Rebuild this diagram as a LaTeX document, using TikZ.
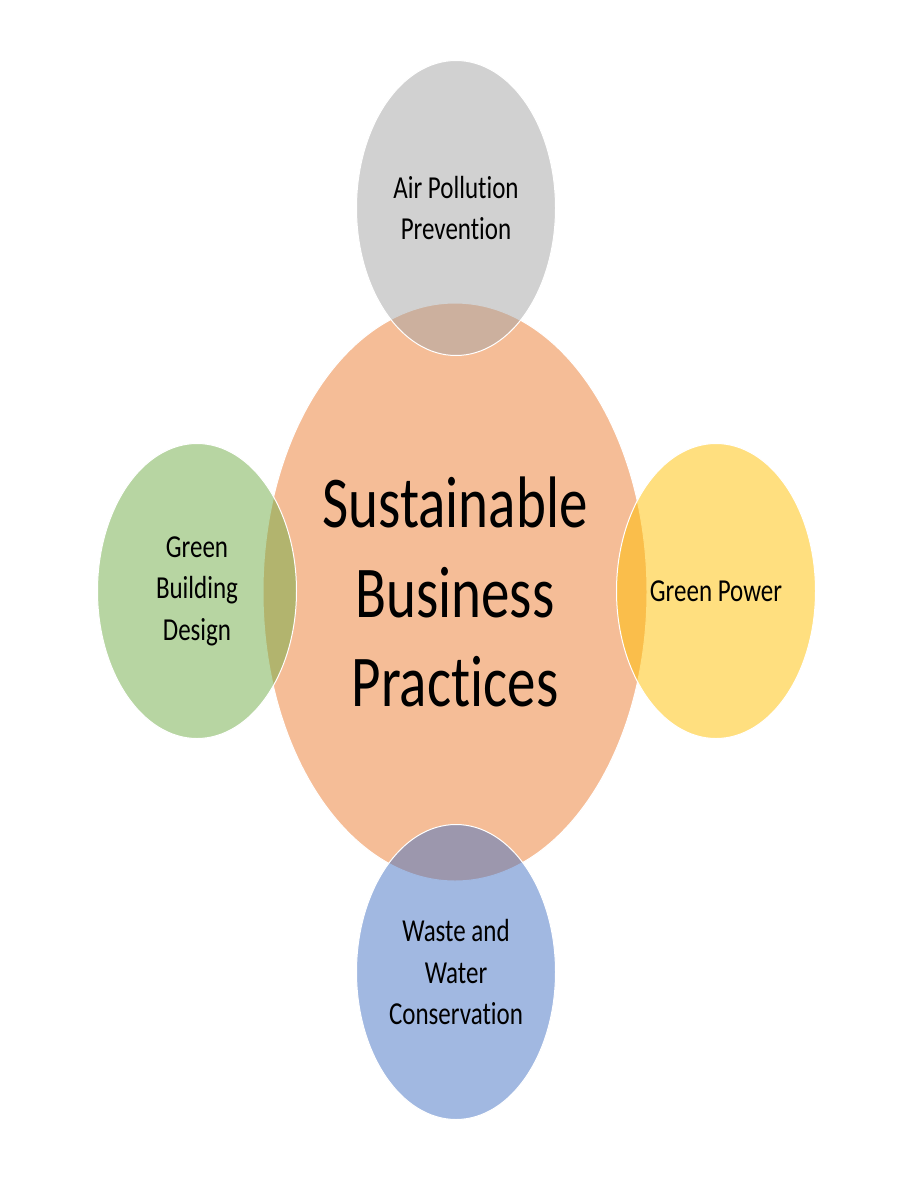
\documentclass[tikz,border=0pt]{standalone}
\usepackage{fontspec}
\setmainfont{Carlito}[Ligatures=NoCommon]
\usetikzlibrary{shapes.geometric}
\definecolor{hubOrange}{HTML}{ED7D31}
\definecolor{airGray}{HTML}{A5A5A5}
\definecolor{buildGreen}{HTML}{70AD47}
\definecolor{powerYellow}{HTML}{FFC000}
\definecolor{wasteBlue}{HTML}{4472C4}
\tikzset{
    bubble/.style={
        ellipse,
        draw=white,
        line width=1pt,
        fill opacity=0.5,
        inner sep=0pt
    },
    hub_bubble/.style={
        bubble,
        fill=hubOrange,
        minimum width=384pt,
        minimum height=578pt
    },
    spoke_bubble/.style={
        bubble,
        minimum width=199pt,
        minimum height=295pt
    },
    hub_text/.style={
        align=center,
        font=\fontsize{57}{70}\selectfont,
        yscale=1.28,
        transform shape
    },
    spoke_text/.style={
        align=center,
        font=\fontsize{25}{32.5}\selectfont,
        yscale=1.28,
        transform shape
    }
}

\begin{document}
\begin{tikzpicture}[x=1pt, y=-1pt]
\useasboundingbox[fill=white] (0,0) rectangle (900,1200);

% --- Bubbles ---
\node[hub_bubble] (Hub) at (455,592) {};
\node[spoke_bubble, fill=airGray] (Air) at (456,208) {};
\node[spoke_bubble, fill=buildGreen] (Building) at (197,591) {};
\node[spoke_bubble, fill=powerYellow] (Power) at (716,591) {};
\node[spoke_bubble, fill=wasteBlue] (Waste) at (456,972) {};

% --- Labels ---
\node[hub_text] (HubText) at (Hub) {Sustainable\\Business\\Practices};
\node[spoke_text] (AirText) at (Air) {Air Pollution\\Prevention};
\node[spoke_text] (BuildingText) at (Building) {Green\\Building\\Design};
\node[spoke_text] (PowerText) at (Power) {Green Power};
\node[spoke_text] (WasteText) at (Waste) {Waste and\\Water\\Conservation};

\end{tikzpicture}
\end{document}
